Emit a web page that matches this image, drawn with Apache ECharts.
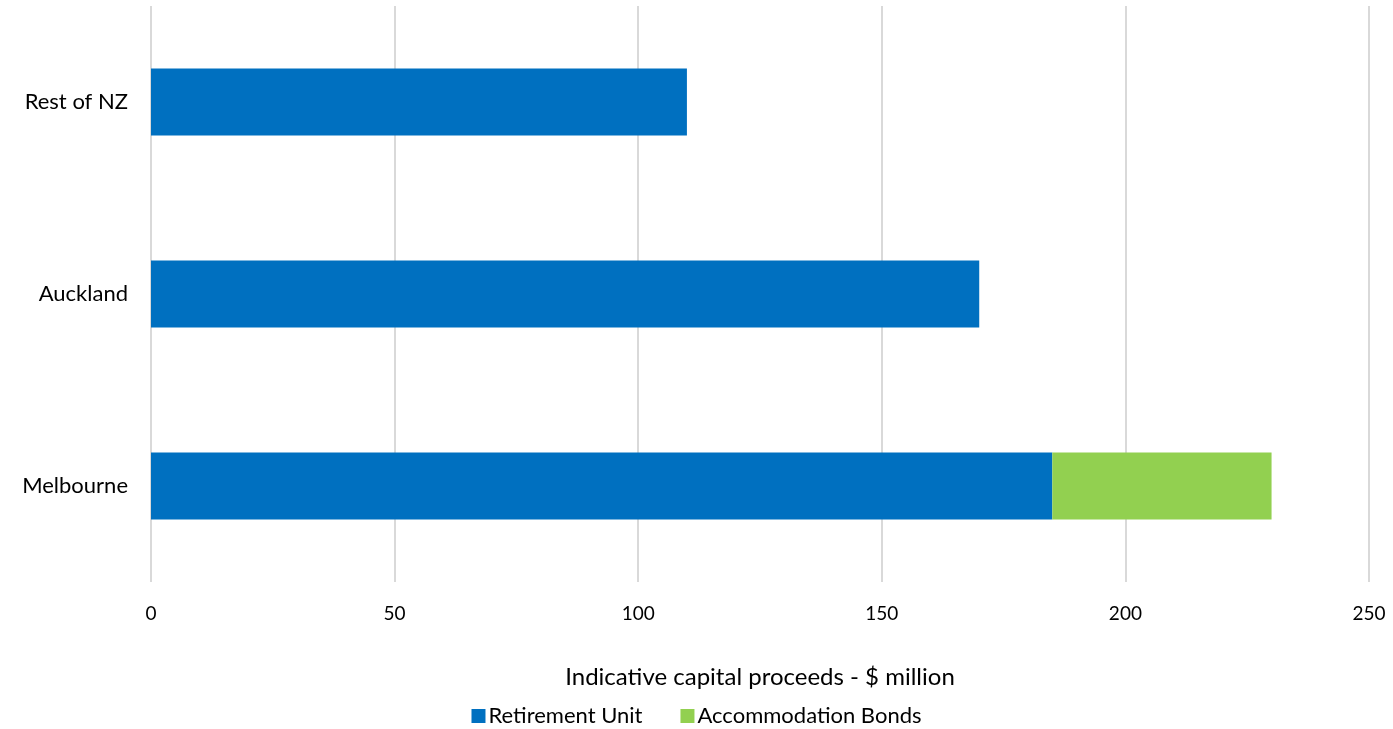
<!DOCTYPE html>
<html>
<head>
<meta charset="utf-8">
<script src="https://cdn.jsdelivr.net/npm/echarts@6/dist/echarts.min.js"></script>
<style>
  html, body { margin: 0; padding: 0; background: #fff; }
  #chart { width: 1393px; height: 729px; }
</style>
</head>
<body>
<div id="chart"></div>
<script>
// categories, bottom to top
const regions = ['Melbourne', 'Auckland', 'Rest of NZ'];
const retirementUnit = [185, 170, 110];
const accommodationBonds = [45, 0, 0];
const xTicks = [0, 50, 100, 150, 200, 250];

const font = 'Lato, "Open Sans", sans-serif';

const chart = echarts.init(document.getElementById('chart'));
chart.setOption({
  animation: false,
  textStyle: { fontFamily: font },
  grid: { left: 151, right: 24, top: 6, bottom: 147 },
  legend: {
    bottom: -3,
    left: 'center',
    itemWidth: 14,
    itemHeight: 14,
    itemGap: 38,
    icon: 'rect',
    textStyle: { fontSize: 22, color: '#000', fontFamily: font, padding: [0, 0, 0, -2] },
    data: ['Retirement Unit', 'Accommodation Bonds']
  },
  xAxis: {
    type: 'value',
    min: xTicks[0],
    max: xTicks[xTicks.length - 1],
    interval: 50,
    name: 'Indicative capital proceeds - $ million',
    nameLocation: 'middle',
    nameGap: 83,
    nameTextStyle: { fontSize: 24, color: '#000', fontFamily: font },
    axisLine: { show: false },
    axisTick: { show: false },
    axisLabel: { fontSize: 19, color: '#000', margin: 22, fontFamily: font },
    splitLine: { lineStyle: { color: '#d9d9d9', width: 2 } }
  },
  yAxis: {
    type: 'category',
    data: regions,
    axisLine: { show: false },
    axisTick: { show: false },
    axisLabel: { fontSize: 22, color: '#000', margin: 23, fontFamily: font }
  },
  series: [
    {
      name: 'Retirement Unit',
      type: 'bar',
      stack: 'total',
      barWidth: '35%',
      itemStyle: { color: '#0070C0' },
      data: retirementUnit
    },
    {
      name: 'Accommodation Bonds',
      type: 'bar',
      stack: 'total',
      barWidth: '35%',
      itemStyle: { color: '#92D050' },
      data: accommodationBonds
    }
  ]
});
</script>
</body>
</html>
